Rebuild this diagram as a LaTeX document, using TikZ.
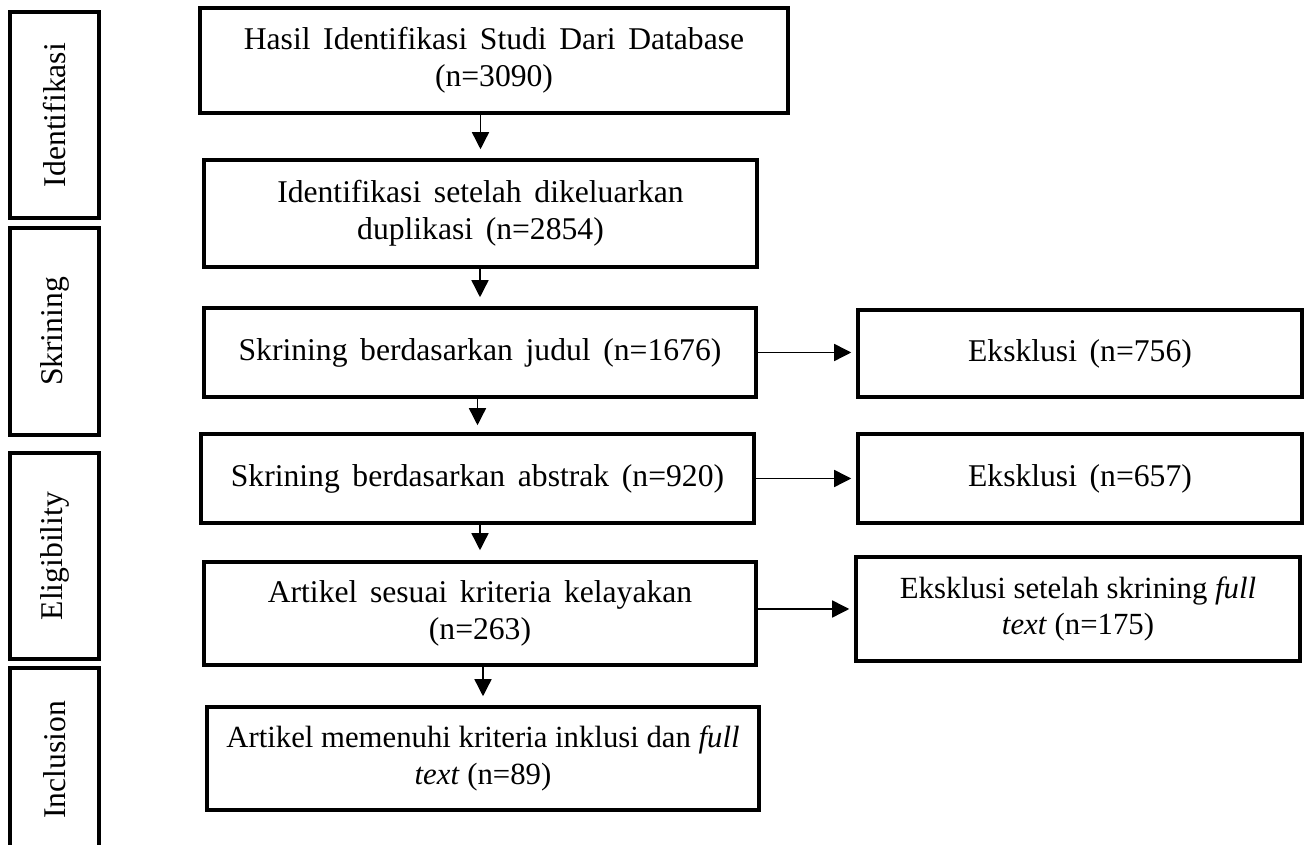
\documentclass[tikz,border=0pt]{standalone}
\usepackage{fontspec}
\setmainfont{Liberation Serif}
\usetikzlibrary{arrows.meta}
\newcommand\mywidefont{\fontsize{18}{21}\selectfont\spaceskip=0.4em plus 0.1em minus 0.1em\relax}
\newcommand\mytightfont{\fontsize{17.5}{21}\selectfont}
\begin{document}
\begin{tikzpicture}[
  box/.style={draw, line width=2pt, inner sep=0pt, align=center, font=\mywidefont},
  tightbox/.style={box, font=\mytightfont},
  phase/.style={draw, line width=2pt, inner sep=0pt, rotate=90,
    minimum height=1.78cm, font=\fontsize{18}{21}\selectfont},
  arr/.style={line width=0.8pt, -{Triangle[length=0.34cm,width=0.34cm]}},
]
\useasboundingbox (0,0) rectangle (26.08,-16.90);

% phase labels
\node[phase, minimum width=4.12cm] (L1) at (1.09,-2.30) {Identifikasi};
\node[phase, minimum width=4.14cm] (L2) at (1.09,-6.63) {Skrining};
\node[phase, minimum width=4.12cm] (L3) at (1.09,-11.12) {Eligibility};
\node[phase, minimum width=3.68cm] (L4) at (1.09,-15.20) {Inclusion};

% main column
\node[box, minimum width=11.76cm, minimum height=2.10cm] (B1) at (9.88,-1.21)
  {Hasil Identifikasi Studi Dari Database\\(n=3090)};
\node[box, minimum width=11.06cm, minimum height=2.14cm] (B2) at (9.61,-4.27)
  {Identifikasi setelah dikeluarkan\\duplikasi (n=2854)};
\node[box, minimum width=11.04cm, minimum height=1.78cm] (B3) at (9.60,-7.05)
  {Skrining berdasarkan judul (n=1676)};
\node[box, minimum width=11.06cm, minimum height=1.78cm] (B4) at (9.55,-9.57)
  {Skrining berdasarkan abstrak (n=920)};
\node[box, minimum width=11.04cm, minimum height=2.06cm] (B5) at (9.60,-12.27)
  {Artikel sesuai kriteria kelayakan\\(n=263)};
\node[tightbox, minimum width=11.04cm, minimum height=2.06cm] (B6) at (9.66,-15.17)
  {Artikel memenuhi kriteria inklusi dan \textit{full}\\\textit{text} (n=89)};

% exclusion column
\node[box, minimum width=8.88cm, minimum height=1.74cm] (E1) at (21.60,-7.07)
  {Eksklusi (n=756)};
\node[box, minimum width=8.88cm, minimum height=1.78cm] (E2) at (21.60,-9.57)
  {Eksklusi (n=657)};
\node[tightbox, minimum width=8.88cm, minimum height=2.08cm] (E3) at (21.56,-12.18)
  {Eksklusi setelah skrining \textit{full}\\\textit{text} (n=175)};

% vertical arrows
\draw[arr, shorten >=0.18cm] (B2.north |- B1.south) -- (B2.north);
\draw[arr, shorten >=0.18cm] (B3.north |- B2.south) -- (B3.north);
\draw[arr, shorten >=0.14cm] (B4.north |- B3.south) -- (B4.north);
\draw[arr, shorten >=0.20cm] (B5.north |- B4.south) -- (B5.north);
\draw[arr, shorten >=0.18cm] (B6.north |- B5.south) -- (B6.north);

% horizontal arrows
\draw[arr, shorten >=0.10cm] (B3.east) -- (B3.east -| E1.west);
\draw[arr, shorten >=0.10cm] (B4.east) -- (B4.east -| E2.west);
\draw[arr, shorten >=0.10cm] (E3.west -| B5.east) -- (E3.west);
\end{tikzpicture}
\end{document}
